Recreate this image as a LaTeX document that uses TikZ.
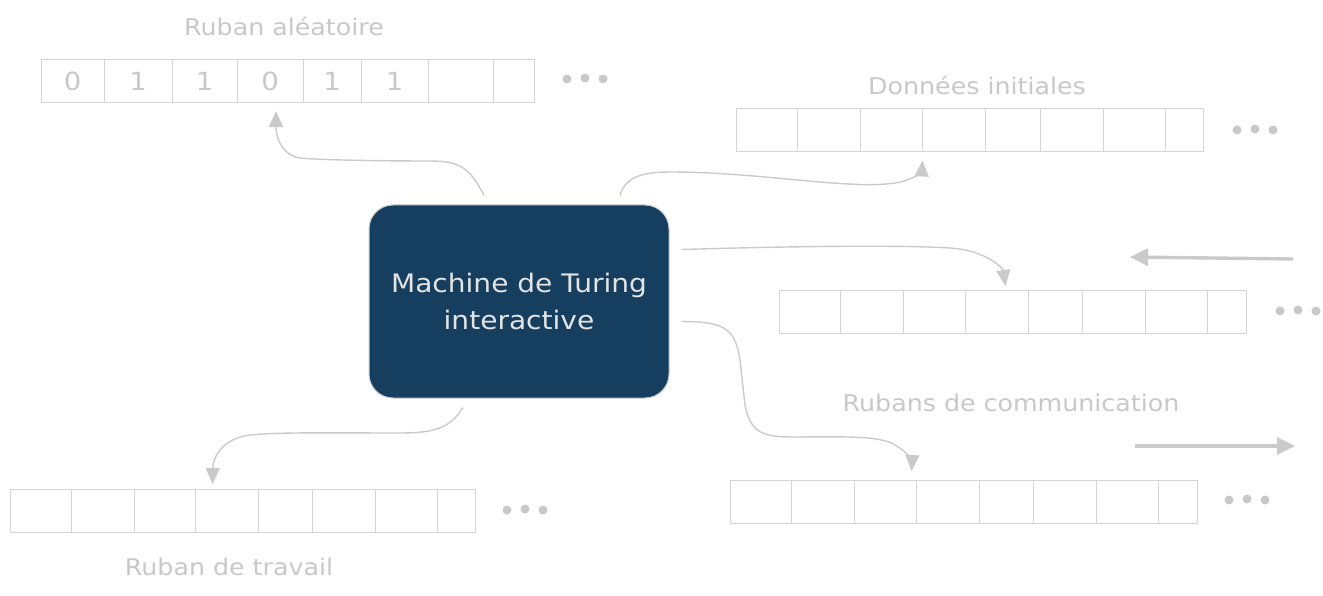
\documentclass[tikz,border=0pt]{standalone}
\usepackage{fontspec}
\setmainfont{DejaVu Sans}[FakeStretch=1.1]
\usetikzlibrary{arrows.meta}
\definecolor{tape}{HTML}{D4D4D4}
\definecolor{lbl}{HTML}{C8C8C8}
\definecolor{conn}{HTML}{CACACA}
\definecolor{mach}{HTML}{163E5E}
\definecolor{machtxt}{HTML}{E4E4E4}
\newcommand\drawtape[3]{%
  \foreach \l/\r/\t [count=\i] in {#3} {%
    \pgfmathsetmacro\w{\r-\l}%
    \node[cellbox, minimum width=\w pt] (#1\i) at ({(\l+\r)/2},#2) {\t};
  }%
}
\begin{document}
\begin{tikzpicture}[x=1pt,y=-1pt,
  cellbox/.style={draw=tape, line width=1pt, inner sep=0pt, minimum height=43pt, font=\fontsize{25}{29}\selectfont, text=lbl},
  lbltext/.style={text=lbl, font=\fontsize{23}{27}\selectfont, inner sep=0pt},
  conn/.style={draw=conn, line width=1.4pt, -{Triangle[length=16pt,width=14pt]}},
  bigarrow/.style={draw=conn, line width=3.4pt, -{Triangle[length=18pt,width=17pt]}},
  dot/.style={circle, fill=lbl, inner sep=0pt, minimum size=9pt}
]
\useasboundingbox (0,0) rectangle (1323,596);

% tapes
\drawtape{a}{81}{41/104/0,104/172/1,172/237/1,237/303/0,303/361/1,361/428/1,428/493/{},493/534/{}}
\drawtape{b}{130.5}{736/797/{},797/860/{},860/922/{},922/985/{},985/1040/{},1040/1103/{},1103/1165/{},1165/1203/{}}
\drawtape{c}{312}{779/840/{},840/903/{},903/965/{},965/1028/{},1028/1082/{},1082/1145/{},1145/1207/{},1207/1246/{}}
\drawtape{d}{502}{730/791/{},791/854/{},854/916/{},916/979/{},979/1033/{},1033/1096/{},1096/1158/{},1158/1197/{}}
\drawtape{e}{511}{10/71/{},71/134/{},134/195/{},195/258/{},258/312/{},312/375/{},375/437/{},437/475/{}}

% ellipses
\foreach \p/\x/\y in {a/567/79,b/1237/130,c/1280/311,d/1229/500,e/507/510}{
  \node[dot] (\p dot1) at (\x,\y) {};
  \node[dot] (\p dot2) at (\x+18,\y-1) {};
  \node[dot] (\p dot3) at (\x+36,\y) {};
}

% labels
\node[lbltext] (la) at (284,26) {Ruban aléatoire};
\node[lbltext] (lb) at (977,85) {Données initiales};
\node[lbltext] (lc) at (1011,403) {Rubans de communication};
\node[lbltext] (le) at (229,567) {Ruban de travail};

% machine
\node[draw=conn, line width=1pt, fill=mach, rounded corners=24pt, minimum width=300pt,
  minimum height=193pt, text=machtxt, align=center, font=\fontsize{25.5}{37}\selectfont]
  (m) at (519,301.5) {Machine de Turing\\interactive};

% connectors
\draw[conn] ([shift={(-35,-9)}]m.north) .. controls (470,168) and (460,161) .. (430,161)
  .. controls (380,161) and (320,160) .. (300,158) .. controls (284,156) and (276,140) .. ([shift={(6,8)}]a4.south);
\draw[conn] ([shift={(101,-9)}]m.north) .. controls (625,178) and (640,172) .. (670,172)
  .. controls (760,172) and (850,190) .. (895,183) .. controls (915,180) and (922,170) .. ([shift={(0,8)}]b3.south east);
\draw[conn] ([shift={(12,-52)}]m.east) .. controls (800,246) and (900,245) .. (950,248)
  .. controls (985,250) and (1003,268) .. ([shift={(9,-4)}]c4.north);
\draw[conn] ([shift={(12,20)}]m.east) .. controls (720,322) and (735,325) .. (740,360)
  -- (745,405) .. controls (750,430) and (760,437) .. (790,437)
  .. controls (840,437) and (880,435) .. (895,445) .. controls (908,452) and (912,462) .. ([shift={(-4,-9)}]d4.north west);
\draw[conn] ([shift={(-56,9)}]m.south) .. controls (450,428) and (435,433) .. (400,433)
  .. controls (330,433) and (280,432) .. (250,435) .. controls (225,438) and (213,455) .. ([shift={(-14,-5)}]e4.north);

% direction arrows
\coordinate (inA) at (1293,259);
\coordinate (inB) at (1130,257);
\coordinate (outA) at (1135,446);
\coordinate (outB) at (1295,446);
\draw[bigarrow] (inA) -- (inB);
\draw[bigarrow] (outA) -- (outB);
\end{tikzpicture}
\end{document}
